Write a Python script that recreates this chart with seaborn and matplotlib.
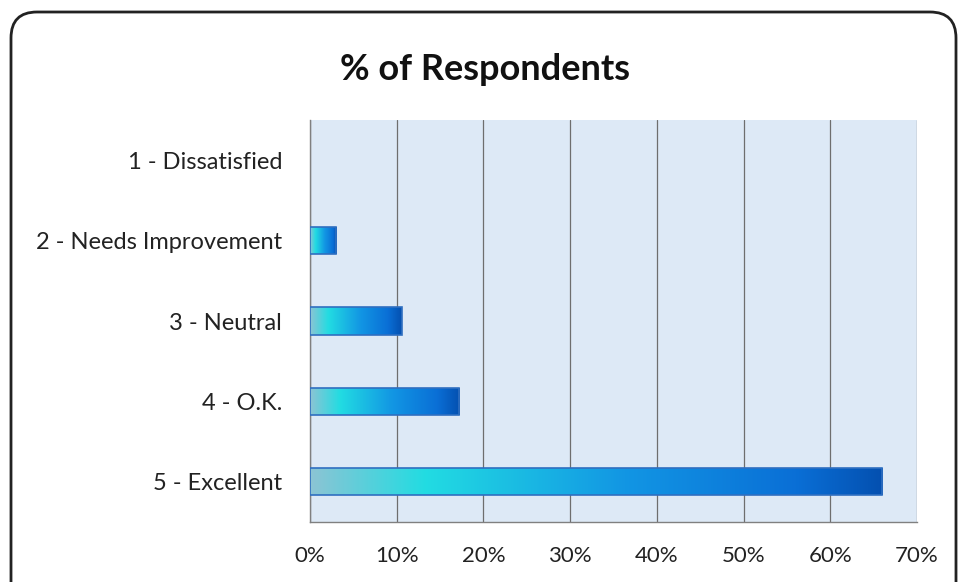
import numpy as np
import pandas as pd
import matplotlib
matplotlib.use("Agg")
import matplotlib.pyplot as plt
import seaborn as sns
from matplotlib.colors import LinearSegmentedColormap
from matplotlib.patches import FancyBboxPatch
from matplotlib.transforms import IdentityTransform

# data
categories = ["1 - Dissatisfied", "2 - Needs Improvement", "3 - Neutral", "4 - O.K.", "5 - Excellent"]
percent = [0.0, 3.0, 10.6, 17.2, 66.0]
xticks = [0, 10, 20, 30, 40, 50, 60, 70]
xtick_labels = ["0%", "10%", "20%", "30%", "40%", "50%", "60%", "70%"]

df = pd.DataFrame({"Rating": categories, "Percent": percent})

sns.set_style("white")
plt.rcParams["font.family"] = ["Lato", "DejaVu Sans"]

fig = plt.figure(figsize=(9.58, 5.82), dpi=100)
ax = fig.add_axes([0.3236, 0.1031, 0.6336, 0.6907])
ax.set_facecolor("#dde9f6")

sns.barplot(data=df, x="Percent", y="Rating", orient="h", width=0.34,
            color="#1aa8e6", ax=ax, zorder=3)

# gradient fill per bar
grad = LinearSegmentedColormap.from_list(
    "bar", [(0, "#8cc4d4"), (0.2, "#22dce2"), (0.55, "#1296e4"), (0.85, "#0a6fd6"), (1, "#0450b0")])
g = np.linspace(0, 1, 256).reshape(1, -1)
for p in ax.patches:
    w = p.get_width()
    if w <= 0:
        p.set_visible(False)
        continue
    y0 = p.get_y()
    h = p.get_height()
    im = ax.imshow(g, cmap=grad, aspect="auto", extent=[0, w, y0 + h, y0],
                   zorder=3.5, interpolation="bicubic")
    im.set_clip_path(p)
    p.set_facecolor("none")
    p.set_edgecolor("#2f6fc0")
    p.set_linewidth(1.2)
    p.set_zorder(4)

ax.set_xlim(0, 70)
ax.set_ylim(4.5, -0.5)
ax.set_xticks(xticks)
ax.set_xticklabels(xtick_labels, fontsize=16, color="#222222")
ax.tick_params(axis="y", which="major", length=0, labelsize=17, labelcolor="#222222", pad=20)
ax.set_yticks([i - 0.5 for i in range(len(categories) + 1)], minor=True)
ax.tick_params(axis="y", which="minor", length=7, color="#808080", width=1)
ax.tick_params(axis="x", which="major", length=7, color="#808080", width=1, pad=10)

ax.grid(axis="x", color="#6e6e6e", linewidth=0.9, zorder=1)
ax.set_axisbelow(True)
ax.set_xlabel("")
ax.set_ylabel("")
for s in ["top", "right"]:
    ax.spines[s].set_visible(False)
for s in ["left", "bottom"]:
    ax.spines[s].set_color("#808080")
    ax.spines[s].set_linewidth(1)

fig.text(0.506, 0.88, "% of Respondents", ha="center", va="center",
         fontsize=26, fontweight="bold", color="#111111")

# rounded frame around the chart
frame = FancyBboxPatch((11, -30), 945, 600, boxstyle="round,pad=0,rounding_size=26",
                       transform=IdentityTransform(), fill=False,
                       edgecolor="#222222", linewidth=2)
fig.patches.append(frame)

fig.savefig("out.png", dpi=100)
